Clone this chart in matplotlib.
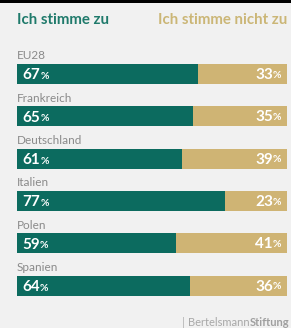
import matplotlib.pyplot as plt
from matplotlib.patches import Rectangle

plt.rcParams['font.family'] = ['Lato', 'DejaVu Sans']

# data
countries = ["EU28", "Frankreich", "Deutschland", "Italien", "Polen", "Spanien"]
agree = [67, 65, 61, 77, 59, 64]
disagree = [33, 35, 39, 23, 41, 36]

teal = "#0c6b5f"
gold = "#cfb474"
bg = "#f1f1f1"
grey = "#8a8a8a"

fig = plt.figure(figsize=(2.91, 3.28), dpi=100, facecolor=bg)
ax = fig.add_axes([17 / 291, 0, 270 / 291, 1])
ax.set_facecolor(bg)
ax.set_xlim(0, 100)
ax.set_ylim(6.0, -1.75)
ax.axis("off")

# black strip at top
fig.patches.append(Rectangle((0, 1 - 3 / 328), 1, 3 / 328, transform=fig.transFigure,
                             facecolor="black", edgecolor="none"))

ypos = list(range(len(countries)))
h = 0.47
ax.barh(ypos, agree, height=h, color=teal)
ax.barh(ypos, disagree, left=agree, height=h, color=gold)

for i, (c, a, d) in enumerate(zip(countries, agree, disagree)):
    ax.text(0, i - 0.43, c, ha="left", va="center", fontsize=8.5, color=grey)
    t = ax.text(2, i + 0.03, str(a), ha="left", va="center", fontsize=11,
                fontweight="bold", color="white")
    ax.annotate("%", xy=(1, 0.1), xycoords=t, ha="left", va="bottom",
                fontsize=7.5, fontweight="bold", color="white")
    p = ax.text(98, i + 0.03, "%", ha="right", va="center", fontsize=7.5,
                fontweight="bold", color="white")
    ax.annotate(str(d), xy=(0, -0.25), xycoords=p, ha="right", va="bottom",
                fontsize=11, fontweight="bold", color="white")

# headers
ax.text(0, -1.28, "Ich stimme zu", ha="left", va="center", fontsize=10.8,
        fontweight="bold", color="#1f7a6b")
ax.text(100, -1.28, "Ich stimme nicht zu", ha="right", va="center", fontsize=10.8,
        fontweight="bold", color="#cbb676")

# footer
fig.text(182 / 291, 6 / 328, "|", ha="left", va="center", fontsize=8, color="#b0b0b0")
ft = fig.text(188 / 291, 5 / 328, "Bertelsmann", ha="left", va="center", fontsize=8,
              color="#a8a8a8")
ax.annotate("Stiftung", xy=(1, 0), xycoords=ft, ha="left", va="bottom", fontsize=8,
            fontweight="bold", color="#a0a0a0")

fig.savefig("out.png", dpi=100, facecolor=bg)
